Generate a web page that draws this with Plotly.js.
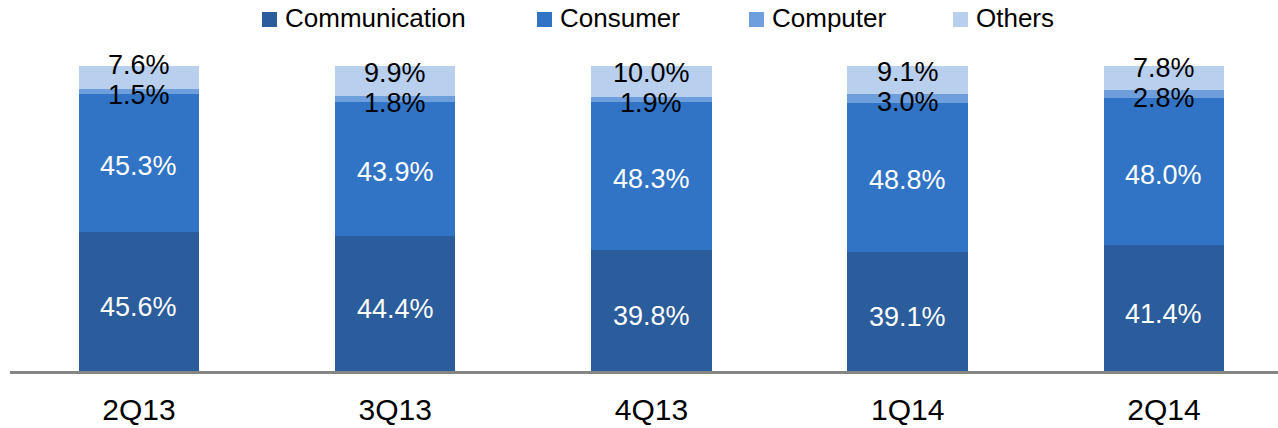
<!DOCTYPE html>
<html>
<head>
<meta charset="utf-8">
<script src="https://cdn.plot.ly/plotly-3.0.1.min.js"></script>
<style>html,body{margin:0;padding:0;background:#fff;}#chart{width:1278px;height:428px;}</style>
</head>
<body>
<div id="chart"></div>
<script>
const categories = ["2Q13", "3Q13", "4Q13", "1Q14", "2Q14"];
const seriesNames = ["Communication", "Consumer", "Computer", "Others"];
const communication = [45.6, 44.4, 39.8, 39.1, 41.4];
const consumer = [45.3, 43.9, 48.3, 48.8, 48.0];
const computer = [1.5, 1.8, 1.9, 3.0, 2.8];
const others = [7.6, 9.9, 10.0, 9.1, 7.8];

const seriesValues = [communication, consumer, computer, others];
const colors = ["#2B5C9B", "#3173C5", "#6E9EDC", "#B9CFEE"];
const labelColors = ["#FFFFFF", "#FFFFFF", "#000000", "#000000"];
const FONT = "Liberation Sans, Arial, sans-serif";

// figure geometry (pixels)
const W = 1278, H = 428;
const M = { l: 10, r: 0, t: 66, b: 57 };
const plotW = W - M.l - M.r, plotH = H - M.t - M.b;
const pxToPaperX = px => (px - M.l) / plotW;
const pxToPaperY = py => (H - M.b - py) / plotH;

const traces = seriesValues.map((vals, i) => ({
  type: "bar",
  name: seriesNames[i],
  x: categories,
  y: vals,
  width: 0.47,
  marker: { color: colors[i], line: { width: 0 } },
  showlegend: false,
  hoverinfo: "x+y+name"
}));

const annotations = [];
categories.forEach((cat, j) => {
  let base = 0;
  const centers = [];
  seriesValues.forEach((vals) => {
    centers.push(base + vals[j] / 2);
    base += vals[j];
  });
  seriesValues.forEach((vals, i) => {
    let y = centers[i];
    let yshift = -3;
    if (i === 0) { yshift = -6; }
    if (i === 2) { yshift = -4; }
    if (i === 3) { y = centers[2]; yshift = 26; }
    annotations.push({
      x: cat, y: y, xref: "x", yref: "y",
      text: vals[j].toFixed(1) + "%",
      showarrow: false,
      xanchor: "center", yanchor: "middle",
      yshift: yshift,
      font: { family: FONT, size: 27, color: labelColors[i] }
    });
  });
});

// legend drawn as squares + texts
const legendX = [262, 537, 749, 953];
const shapes = [];
seriesNames.forEach((name, i) => {
  shapes.push({
    type: "rect", xref: "paper", yref: "paper",
    x0: pxToPaperX(legendX[i]), x1: pxToPaperX(legendX[i] + 15),
    y0: pxToPaperY(27), y1: pxToPaperY(12),
    fillcolor: colors[i], line: { width: 0 }, layer: "above"
  });
  annotations.push({
    xref: "paper", yref: "paper",
    x: pxToPaperX(legendX[i] + 21), y: pxToPaperY(18.5),
    xanchor: "left", yanchor: "middle",
    text: name, showarrow: false,
    font: { family: FONT, size: 26, color: "#000000" }
  });
});

const layout = {
  width: W, height: H,
  margin: M,
  barmode: "stack",
  paper_bgcolor: "#FFFFFF",
  plot_bgcolor: "#FFFFFF",
  font: { family: FONT, size: 26, color: "#000000" },
  showlegend: false,
  xaxis: {
    type: "category",
    range: [-0.503, 4.445],
    showline: true, linecolor: "#858585", linewidth: 3,
    showgrid: false, zeroline: false,
    ticks: "", ticklabelstandoff: 10,
    tickfont: { family: FONT, size: 30, color: "#000000" }
  },
  yaxis: {
    range: [0, 100],
    visible: false,
    showgrid: false, zeroline: false
  },
  shapes: shapes,
  annotations: annotations
};

Plotly.newPlot("chart", traces, layout, { displayModeBar: false, staticPlot: true });
</script>
</body>
</html>
